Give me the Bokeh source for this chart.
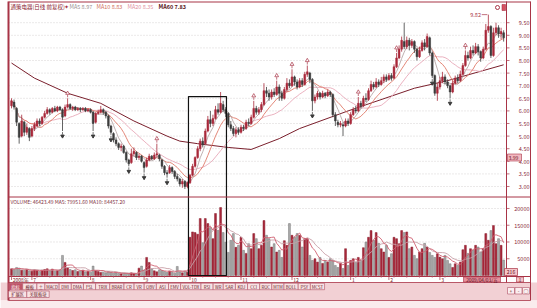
import numpy as np
import pandas as pd
from bokeh.plotting import figure
from bokeh.models import Range1d, ColumnDataSource
from bokeh.core.properties import value
from bokeh.embed import file_html
from bokeh.resources import INLINE

# ---------------- data ----------------
opens = [6.20, 6.35, 6.10, 5.50, 5.00, 5.55, 5.15, 5.30, 5.00, 5.30,
         5.40, 5.60, 5.50, 5.75, 5.90, 6.05, 5.95, 6.10, 6.00, 6.15,
         6.05, 5.80, 6.15, 6.25, 6.10, 6.15, 6.05, 6.10, 6.05, 6.10,
         6.00, 6.05, 5.95, 5.55, 5.90, 5.95, 6.05, 5.95, 5.80, 5.40,
         5.10, 4.85, 4.70, 4.55, 4.60, 4.35, 4.05, 3.95, 4.30, 4.35,
         4.15, 4.20, 3.95, 3.80, 4.05, 4.20, 4.10, 4.25, 4.25, 4.05,
         3.80, 3.55, 3.55, 3.75, 3.60, 3.40, 3.30, 3.10, 3.20, 3.00,
         3.15, 3.45, 3.80, 4.15, 4.50, 4.80, 4.70, 5.20, 5.65, 5.50,
         5.70, 6.05, 5.95, 6.25, 6.05, 5.90, 5.45, 5.30, 5.10, 5.25,
         5.15, 5.35, 5.30, 5.55, 5.50, 5.75, 6.10, 5.95, 6.05, 6.25,
         6.80, 6.70, 6.55, 6.75, 6.65, 6.95, 6.70, 6.50, 6.85, 7.10,
         7.00, 7.35, 7.15, 6.95, 7.20, 7.05, 7.45, 7.50, 7.25, 6.40,
         6.55, 6.70, 6.55, 6.70, 6.60, 6.75, 6.65, 5.85, 5.55, 5.45,
         5.45, 5.40, 5.60, 5.50, 5.85, 6.05, 6.00, 6.30, 6.20, 6.50,
         6.45, 6.80, 7.05, 6.95, 7.15, 7.05, 7.20, 7.35, 7.25, 7.40,
         7.30, 7.75, 8.10, 8.45, 8.75, 8.55, 8.80, 8.60, 8.75, 8.45,
         8.15, 8.40, 8.70, 8.55, 8.90, 8.30, 7.40, 6.70, 6.95, 7.20,
         7.35, 7.15, 7.00, 6.75, 7.10, 7.30, 7.20, 7.45, 7.80, 8.20,
         8.10, 8.40, 8.30, 8.55, 8.35, 8.10, 8.45, 9.20, 9.35, 8.20,
         9.10, 9.30, 9.05, 9.10]
closes = [6.40, 6.15, 5.55, 4.95, 5.60, 5.15, 5.35, 4.95, 5.30, 5.45,
          5.60, 5.50, 5.75, 5.90, 6.05, 5.95, 6.10, 6.00, 6.15, 6.05,
          5.75, 6.15, 6.25, 6.10, 6.15, 6.05, 6.10, 6.05, 6.10, 6.00,
          6.05, 5.95, 5.50, 5.90, 5.95, 6.05, 5.95, 5.80, 5.40, 5.15,
          4.85, 4.70, 4.55, 4.60, 4.35, 4.05, 3.90, 4.30, 4.40, 4.15,
          4.20, 4.00, 3.75, 4.05, 4.20, 4.10, 4.25, 4.30, 4.10, 3.80,
          3.55, 3.50, 3.75, 3.60, 3.40, 3.30, 3.10, 3.20, 3.00, 3.15,
          3.45, 3.80, 4.15, 4.50, 4.80, 4.65, 5.20, 5.65, 5.50, 5.70,
          6.05, 5.95, 6.30, 6.05, 5.90, 5.45, 5.30, 5.10, 5.25, 5.15,
          5.35, 5.30, 5.55, 5.50, 5.75, 6.10, 5.95, 6.05, 6.25, 6.80,
          6.70, 6.55, 6.75, 6.65, 6.95, 6.70, 6.50, 6.85, 7.10, 7.00,
          7.35, 7.15, 6.95, 7.20, 7.05, 7.45, 7.55, 7.25, 6.40, 6.55,
          6.70, 6.55, 6.70, 6.60, 6.75, 6.65, 5.85, 5.60, 5.45, 5.50,
          5.40, 5.60, 5.50, 5.85, 6.05, 6.00, 6.30, 6.20, 6.50, 6.45,
          6.80, 7.05, 6.95, 7.15, 7.05, 7.20, 7.35, 7.25, 7.40, 7.30,
          7.75, 8.10, 8.45, 8.80, 8.55, 8.80, 8.60, 8.75, 8.45, 8.15,
          8.40, 8.70, 8.55, 8.95, 8.30, 7.40, 6.70, 6.95, 7.20, 7.35,
          7.15, 7.00, 6.75, 7.10, 7.30, 7.20, 7.45, 7.80, 8.20, 8.10,
          8.40, 8.30, 8.55, 8.35, 8.10, 8.45, 9.20, 9.35, 8.20, 9.10,
          9.30, 9.05, 9.15, 8.90]
highs = [6.50, 6.45, 6.15, 5.55, 5.85, 5.60, 5.50, 5.35, 5.40, 5.55,
         5.70, 5.70, 5.80, 6.00, 6.15, 6.10, 6.15, 6.20, 6.20, 6.20,
         6.10, 6.25, 6.50, 6.30, 6.20, 6.20, 6.15, 6.15, 6.15, 6.15,
         6.10, 6.10, 6.00, 5.95, 6.05, 6.20, 6.10, 6.00, 5.85, 5.45,
         5.15, 4.95, 4.75, 4.70, 4.65, 4.40, 4.10, 4.50, 4.55, 4.40,
         4.30, 4.25, 4.00, 4.15, 4.30, 4.25, 4.35, 4.70, 4.30, 4.10,
         3.85, 3.65, 3.85, 3.80, 3.65, 3.50, 3.35, 3.30, 3.25, 3.20,
         3.50, 3.90, 4.20, 4.60, 4.90, 4.95, 5.30, 5.80, 6.00, 5.85,
         6.20, 6.30, 6.75, 6.40, 6.15, 5.95, 5.60, 5.40, 5.35, 5.35,
         5.45, 5.45, 5.65, 5.70, 5.85, 6.40, 6.20, 6.15, 6.35, 7.10,
         6.95, 6.85, 6.85, 6.90, 7.20, 7.05, 6.80, 6.95, 7.30, 7.25,
         7.65, 7.40, 7.25, 7.30, 7.30, 7.55, 7.80, 7.55, 7.30, 6.65,
         6.80, 6.75, 6.80, 6.75, 6.85, 6.80, 6.70, 5.95, 5.65, 5.60,
         5.55, 5.70, 5.70, 5.95, 6.15, 6.20, 6.55, 6.40, 6.60, 6.70,
         6.90, 7.20, 7.15, 7.30, 7.25, 7.35, 7.45, 7.45, 7.50, 7.50,
         7.85, 8.30, 8.60, 8.95, 9.50, 8.95, 8.90, 8.85, 8.80, 8.50,
         8.55, 8.80, 8.85, 9.07, 8.95, 8.35, 7.45, 7.10, 7.35, 7.55,
         7.45, 7.25, 7.05, 7.20, 7.40, 7.45, 7.60, 7.90, 8.40, 8.35,
         8.55, 8.60, 8.70, 8.65, 8.40, 8.55, 9.45, 9.82, 9.40, 9.30,
         9.50, 9.40, 9.30, 9.20]
lows = [6.10, 6.05, 5.40, 4.70, 4.95, 5.00, 5.05, 4.80, 4.95, 5.20,
        5.35, 5.40, 5.45, 5.70, 5.85, 5.85, 5.90, 5.95, 5.95, 6.00,
        5.20, 5.75, 6.10, 6.05, 6.00, 6.00, 6.00, 5.95, 6.00, 5.95,
        5.95, 5.90, 5.20, 5.50, 5.85, 5.90, 5.85, 5.70, 5.30, 5.05,
        4.75, 4.60, 4.45, 4.40, 4.30, 3.95, 3.80, 3.90, 4.20, 4.05,
        4.05, 3.95, 3.55, 3.75, 4.00, 4.05, 4.05, 4.15, 4.00, 3.70,
        3.45, 3.35, 3.50, 3.50, 3.30, 3.20, 3.00, 2.95, 2.90, 2.93,
        3.10, 3.40, 3.75, 4.10, 4.40, 4.55, 4.65, 5.15, 5.35, 5.40,
        5.65, 5.85, 5.90, 5.95, 5.75, 5.35, 5.20, 5.00, 4.95, 5.05,
        5.10, 5.20, 5.25, 5.40, 5.45, 5.70, 5.85, 5.85, 5.95, 6.20,
        6.55, 6.40, 6.45, 6.55, 6.60, 6.40, 6.40, 6.45, 6.75, 6.90,
        6.95, 7.00, 6.85, 6.90, 6.95, 7.00, 7.35, 7.10, 6.00, 6.30,
        6.45, 6.45, 6.50, 6.50, 6.55, 6.55, 5.75, 5.40, 5.35, 5.35,
        5.00, 5.35, 5.40, 5.45, 5.80, 5.90, 5.95, 6.10, 6.15, 6.35,
        6.40, 6.75, 6.85, 6.90, 6.95, 7.00, 7.10, 7.15, 7.20, 7.20,
        7.25, 7.70, 8.05, 8.35, 8.45, 8.45, 8.40, 8.50, 8.30, 8.00,
        8.10, 8.35, 8.40, 8.50, 8.20, 7.30, 6.60, 6.40, 6.85, 7.10,
        7.05, 6.90, 6.50, 6.70, 7.05, 7.10, 7.15, 7.40, 7.75, 8.00,
        8.05, 8.20, 8.25, 8.20, 7.95, 8.05, 8.40, 9.10, 8.10, 8.15,
        9.00, 8.90, 8.85, 8.75]
volumes = [2000, 1800, 2400, 2200, 1600, 1500, 1800, 1400, 1300, 1700,
           1500, 1200, 1600, 1800, 2000, 1400, 1900, 1300, 1500, 1700,
           6000, 3900, 2300, 1800, 1500, 1700, 1200, 1400, 1600, 1100,
           1300, 1000, 2800, 1500, 1200, 900, 1000, 800, 1200, 900,
           700, 800, 600, 500, 700, 600, 500, 800, 600, 500,
           2200, 2800, 1600, 5400, 3900, 2000, 1400, 1100, 1700, 1500,
           1200, 900, 1300, 1000, 700, 2700, 1100, 800, 1300, 1000,
           11400, 13000, 12800, 12300, 17000, 9800, 17000, 15500, 14300, 11000,
           18500, 13500, 20300, 12800, 9900, 6900, 10500, 12500, 8400, 9000,
           11400, 7500, 6600, 9500, 8000, 12500, 11000, 8000, 9000, 16400,
           12000, 11000, 8500, 9500, 7000, 7500, 5400, 10400, 9000, 15500,
           12000, 11400, 12500, 12000, 8500, 11000, 11000, 6000, 4500, 5000,
           4000, 5400, 3600, 4500, 4000, 5000, 4500, 3000, 2400, 3600,
           2100, 8000, 3000, 4500, 5000, 4000, 5400, 4600, 8300, 10000,
           11400, 13400, 10500, 12800, 9600, 8000, 7000, 9000, 5400, 6500,
           11400, 11000, 9500, 13400, 12800, 13000, 8000, 8500, 6000, 5000,
           7000, 8000, 9600, 8500, 6900, 6000, 5400, 6500, 5500, 5000,
           6000, 4500, 3500, 2400, 3500, 3000, 4000, 7700, 9000, 6600,
           8000, 7500, 9000, 8500, 7000, 8000, 12500, 10500, 13400, 14900,
           9500, 11000, 9000, 4600]

# MA60 at some candles (its history starts before the chart)
ma60_idx = [0, 9, 22, 35, 48, 61, 66, 73, 85, 94, 105, 113, 132, 158, 171, 193]
ma60_val = [7.9, 7.3, 6.7, 6.3, 5.6, 5.0, 4.8, 4.7, 4.55, 4.47, 4.9, 5.3, 6.0, 6.9, 7.2, 7.83]

price_ticks = [3.0, 3.5, 4.0, 4.5, 5.0, 5.5, 6.0, 6.5, 7.0, 7.5, 8.0, 8.5, 9.0, 9.5]
price_labels = ["%.2f" % t for t in price_ticks]
vol_ticks = [5000, 10000, 15000, 20000]
vol_labels = [str(v) for v in vol_ticks]

month_idx = [0, 8, 31, 52, 70, 90, 110, 133, 148, 168]
month_labels = ["2008年", "7", "8", "9", "10", "11", "12", "1", "2", "3"]
last_date = "2009/04/03/五"

up_marks = [22, 57, 95, 104, 110, 116, 136, 151, 178]
down_marks = [20, 32, 39, 46, 52, 61, 118, 165, 172]
peak_idx, peak_label = 187, "9.82"

box_idx = [69.4, 84.3]
box_top_price = 6.57

title_text = "通策电器(日线 前复权)"
ma_names = ["MA5 8.97", "MA10 8.83", "MA20 8.35", "MA60 7.83"]
vol_title = "VOLUME: 46423.49  MA5: 79951.60  MA10: 84457.20"
cursor_price = "3.99"
tabs = ["指标", "模板", "±", "MACD", "DMI", "DMA", "FSL", "TRIX", "BRAR", "CR", "VR",
        "OBV", "ASI", "EMV", "VOL-TDX", "RSI", "WR", "SAR", "KDJ", "CCI", "ROC",
        "MTM", "BOLL", "PSY", "MCST"]
tabs2 = ["扩展区", "关联板块"]

# ---------------- layout constants (pixels) ----------------
W, H = 537, 308
X0, DX = 11.0, 2.55
PY3, PPU = 186.0, 25.2
VY0, VPP = 275.0, 298.5
LEFT, RIGHT, AXR = 8, 506, 530


def px_to_idx(x):
    return (x - X0) / DX


def px_to_price(y):
    return 3.0 + (PY3 - y) / PPU


def px_to_vol(y):
    return (VY0 - y) * VPP


CJK = value("Noto Sans CJK SC")
RED = "#a83446"
DARK = "#7a1f2c"

p = figure(width=W, height=H, output_backend="svg", toolbar_location=None,
           x_range=Range1d(px_to_idx(0), px_to_idx(W)),
           y_range=Range1d(px_to_price(H), px_to_price(0)),
           x_axis_location=None, y_axis_location=None, min_border=0)
p.extra_x_ranges = {"px": Range1d(0, W)}
p.extra_y_ranges = {"px": Range1d(H, 0), "vol": Range1d(px_to_vol(H), px_to_vol(0))}
p.grid.visible = False
p.outline_line_color = None
p.background_fill_color = "#ffffff"
p.border_fill_color = "#ffffff"

PX = dict(x_range_name="px", y_range_name="px")


def prect(l, r, t, b, fill, line=None, lw=0.8):
    p.quad(left=[l], right=[r], top=[t], bottom=[b], fill_color=fill,
           line_color=line, line_width=lw, **PX)


def pline(xs, ys, color, lw=1.0, dash="solid"):
    p.line(x=xs, y=ys, line_color=color, line_width=lw, line_dash=dash, **PX)


def ptext(x, y, t, size="5.5px", color=DARK, align="left", style="normal"):
    p.text(x=[x], y=[y], text=[t], text_font=CJK, text_font_size=size,
           text_color=color, text_align=align, text_baseline="middle",
           text_font_style=style, **PX)


# bottom band backgrounds
prect(0, W, 282, 300, "#f2d0d4")
prect(0, W, 300, H, "#faeced")

# grid lines
n = len(price_ticks)
p.segment(x0=[LEFT] * n, x1=[RIGHT] * n, y0=price_ticks, y1=price_ticks,
          x_range_name="px", line_color="#cbc6c6", line_dash="1 2", line_width=0.8)
m = len(vol_ticks)
p.segment(x0=[LEFT] * m, x1=[RIGHT] * m, y0=vol_ticks, y1=vol_ticks,
          x_range_name="px", y_range_name="vol", line_color="#cbc6c6",
          line_dash="1 2", line_width=0.8)

# ---------------- price panel ----------------
idx = np.arange(len(closes))
o = np.array(opens)
c = np.array(closes)
up = c >= o
cs = pd.Series(closes)
ma5 = cs.rolling(5, min_periods=1).mean()
ma10 = cs.rolling(10, min_periods=1).mean()
ma20 = cs.rolling(20, min_periods=1).mean()

p.line(ma60_idx, ma60_val, line_color="#7a1f2c", line_width=1.0)
p.line(idx, ma20, line_color="#e8a8b8", line_width=0.9)
p.line(idx, ma10, line_color="#e07a6a", line_width=0.9)
p.line(idx, ma5, line_color="#b8a8a8", line_width=0.9)

ccol = np.where(up, "#a8283a", "#3c3c3c")
src = ColumnDataSource(dict(x=idx, h=highs, l=lows, top=np.maximum(o, c),
                            bot=np.minimum(o, c), col=ccol))
p.segment(x0="x", y0="l", x1="x", y1="h", line_color="col", line_width=0.8, source=src)
p.vbar(x="x", width=0.7, top="top", bottom="bot", fill_color="col",
       line_color="col", line_width=0.5, source=src)

hi = np.array(highs)
lo = np.array(lows)
p.scatter(x=up_marks, y=hi[up_marks] + 0.2, marker="triangle", size=3.8,
          fill_color="#ffffff", line_color=RED, line_width=0.7)
p.segment(x0=up_marks, x1=up_marks, y0=hi[up_marks] + 0.04, y1=hi[up_marks] + 0.14,
          line_color=RED, line_width=0.7)
p.scatter(x=down_marks, y=lo[down_marks] - 0.2, marker="inverted_triangle", size=3.5,
          fill_color="#3a3a3a", line_color="#3a3a3a")
p.segment(x0=down_marks, x1=down_marks, y0=lo[down_marks] - 0.04, y1=lo[down_marks] - 0.14,
          line_color="#3a3a3a", line_width=0.7)

# peak label
p.segment(x0=[peak_idx - 2.6], x1=[peak_idx - 0.4], y0=[highs[peak_idx]], y1=[highs[peak_idx]],
          line_color=RED, line_width=0.7)
p.text(x=[peak_idx - 2.9], y=[highs[peak_idx]], text=[peak_label], text_font=CJK,
       text_font_size="5.5px", text_color=RED, text_align="right", text_baseline="middle")

# ---------------- volume panel ----------------
vs = pd.Series(volumes)
vma5 = vs.rolling(5, min_periods=1).mean()
vma10 = vs.rolling(10, min_periods=1).mean()
vsrc = ColumnDataSource(dict(x=idx, v=volumes,
                             fc=np.where(up, "#a8283a", "#ababab"),
                             lc=np.where(up, "#8a1f2e", "#767676")))
p.vbar(x="x", width=0.74, top="v", bottom=0, fill_color="fc", line_color="lc",
       line_width=0.5, source=vsrc, y_range_name="vol")
p.line(idx, vma10, line_color="#c8a0a8", line_width=0.9, y_range_name="vol")
p.line(idx, vma5, line_color="#d06070", line_width=0.9, y_range_name="vol")

# highlight box
p.quad(left=[box_idx[0]], right=[box_idx[1]], top=[box_top_price],
       bottom=[px_to_price(VY0)], fill_color=None, line_color="#111111", line_width=1.2)

# ---------------- frame lines ----------------
pline([LEFT, AXR], [1.5, 1.5], RED, 1.2)
pline([LEFT, LEFT], [1, 300], RED, 2.0)
pline([RIGHT, RIGHT], [1, 282], RED, 1.0)
pline([AXR, AXR], [1, 300], RED, 1.0)
pline([LEFT, AXR], [196.5, 196.5], RED, 1.0)
pline([LEFT, AXR], [276, 276], RED, 1.0)
pline([LEFT, AXR], [282, 282], RED, 0.8)
pline([LEFT, AXR], [300, 300], RED, 0.8)

# ---------------- texts ----------------
ptext(10, 6, title_text, size="5.5px", color="#8a2030")
ptext(63, 6, "✦", size="5.5px", color=RED)
ma_cols = ["#9a9090", "#d07060", "#e090a0", "#5a1520"]
ma_x = [69, 96, 127, 158]
for t, col, x in zip(ma_names, ma_cols, ma_x):
    ptext(x, 6, t, size="5.5px", color=col, style="bold" if t.startswith("MA60") else "normal")

ptext(10, 201, vol_title, size="5px", color="#803040")

# top-right icons
p.scatter(x=[497], y=[7], marker="circle", size=4, fill_color=None, line_color=RED, **PX)
prect(501.5, 505, 4, 10, "#d85060", RED, 0.6)

# right price axis
p.text(x=[529] * n, y=price_ticks, text=price_labels, x_range_name="px",
       text_font=CJK, text_font_size="5.5px", text_color="#8a2a3a",
       text_align="right", text_baseline="middle")
p.segment(x0=[RIGHT] * n, x1=[RIGHT + 3] * n, y0=price_ticks, y1=price_ticks,
          x_range_name="px", line_color=RED, line_width=0.7)
prect(507, 521, 153.5, 160.5, "#f2b8c0", RED, 0.6)
ptext(508, 157, cursor_price, size="5px", color="#6a1020")

# right volume axis
p.text(x=[529] * m, y=vol_ticks, text=vol_labels, x_range_name="px", y_range_name="vol",
       text_font=CJK, text_font_size="5.5px", text_color="#8a2a3a",
       text_align="right", text_baseline="middle")
p.segment(x0=[RIGHT] * m, x1=[RIGHT + 3] * m, y0=vol_ticks, y1=vol_ticks,
          x_range_name="px", y_range_name="vol", line_color=RED, line_width=0.7)
prect(504, 517, 268, 275, "#f4c4c8", RED, 0.7)
ptext(510.5, 271.5, "216", size="5px", color="#6a1020", align="center")

# date row
k = len(month_idx)
p.segment(x0=month_idx, x1=month_idx, y0=[276] * k, y1=[279.5] * k,
          y_range_name="px", line_color=RED, line_width=0.7)
minor = [i for i in range(0, len(closes), 5)]
p.segment(x0=minor, x1=minor, y0=[276] * len(minor), y1=[277.5] * len(minor),
          y_range_name="px", line_color="#c08090", line_width=0.6)
p.text(x=[i + 0.5 for i in month_idx], y=[279.2] * k, text=month_labels, y_range_name="px",
       text_font=CJK, text_font_size="5px", text_color="#7a1f2c",
       text_align="left", text_baseline="middle")
prect(463, 500, 276.5, 281.5, "#e8909c", RED, 0.6)
ptext(481.5, 279, last_date, size="4.8px", color="#5a0f1c", align="center")
prect(516, 523, 276.5, 281.5, "#f4c4c8", RED, 0.6)
ptext(519.5, 279, "1", size="4.5px", color="#5a0f1c", align="center")

# indicator tabs
x = LEFT
for j, t in enumerate(tabs):
    u = sum(2 if ord(ch) > 0x2E80 else 1 for ch in t)
    w = 6 + 2.05 * u
    fill = "#c05468" if j == 0 else "#f8e2e4"
    prect(x, x + w, 282.8, 289.2, fill, "#b05064", 0.6)
    ptext(x + w / 2, 286, t, size="4.3px", color="#ffffff" if j == 0 else "#6a1a28",
          align="center")
    x += w
x = LEFT
for t in tabs2:
    w = 6 + 2.05 * 2 * len(t)
    prect(x, x + w, 290.5, 297, "#f8e2e4", "#b05064", 0.6)
    ptext(x + w / 2, 293.8, t, size="4.3px", color="#6a1a28", align="center")
    x += w

# zoom buttons
for j, t in enumerate(["+", "-", "○"]):
    prect(507 + 7.5 * j, 514 + 7.5 * j, 287, 293.5, "#fbeef0", "#b05064", 0.6)
    ptext(510.5 + 7.5 * j, 290.3, t, size="5px", color="#6a1a28", align="center")

open("out.html", "w").write(file_html(p, INLINE))
